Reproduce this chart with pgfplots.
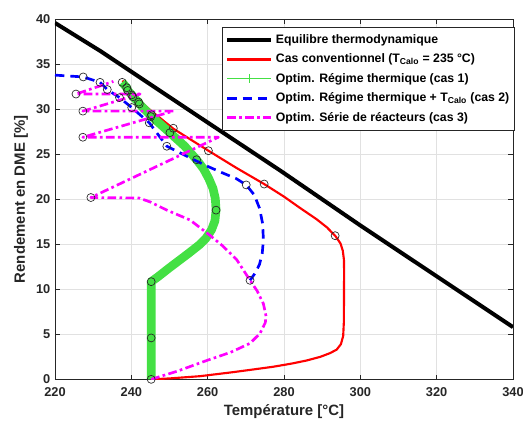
\documentclass[border=0pt]{standalone}
\usepackage{fontspec}
\setmainfont{Liberation Sans}
\usepackage{pgfplots}
\pgfplotsset{compat=1.18}
\definecolor{axgray}{RGB}{38,38,38}
\definecolor{gridgray}{RGB}{225,225,225}
\definecolor{mgreen}{RGB}{68,224,68}
\definecolor{mmag}{RGB}{255,0,255}
\definecolor{mblue}{RGB}{0,0,255}
\definecolor{mred}{RGB}{255,0,0}
\begin{document}
\begin{tikzpicture}
\begin{axis}[
  scale only axis,
  width=343.5pt, height=270pt,
  xmin=220, xmax=340, ymin=0, ymax=40,
  xtick={220,240,...,340}, ytick={0,5,...,40},
  grid=major,
  major grid style={gridgray, line width=0.5pt},
  axis line style={axgray, line width=0.6pt},
  tick style={axgray, line width=0.6pt},
  tick align=inside,
  major tick length=3.5pt,
  /pgf/number format/assume math mode=true,
  tick label style={font=\bfseries\fontsize{9.6}{11}\selectfont, text=axgray},
  xticklabel style={yshift=-3pt},
  xlabel={Température [°C]},
  ylabel={Rendement en DME [\%]},
  every axis x label/.style={at={(axis description cs:0.5,-0.09)},anchor=center,
     font=\bfseries\fontsize{11.2}{13}\selectfont, text=axgray},
  every axis y label/.style={at={(axis description cs:-0.0742,0.5)},anchor=center,rotate=90,
     font=\bfseries\fontsize{11.2}{13}\selectfont, text=axgray},
  clip=true,
  legend style={at={(rel axis cs:1.0044,0.9786)}, anchor=north east,
    font=\bfseries\fontsize{9.2}{11}\selectfont, draw=axgray, fill=white,
    line width=0.5pt, row sep=2.3pt, inner ysep=3.5pt, inner xsep=2pt},
  legend cell align=left,
  legend image code/.code={\draw[mark repeat=2,mark phase=2,#1] plot coordinates {(0pt,0pt) (16.5pt,0pt) (33pt,0pt)};},
]
\coordinate (ll) at (rel axis cs:0,0);
\coordinate (ur) at (rel axis cs:1,1);
% legend entries
\addlegendimage{black, line width=3pt}
\addlegendentry{Equilibre thermodynamique}
\addlegendimage{mred, line width=1.6pt}
\addlegendentry{Cas conventionnel (T\textsubscript{Calo} = 235 °C)}
\addlegendimage{mgreen, line width=0.9pt, mark=+, mark size=3.5pt, mark options={mgreen, solid, line width=0.9pt}}
\addlegendentry{Optim. Régime thermique (cas 1)}
\addlegendimage{mblue, line width=2pt, dash pattern=on 7pt off 4.5pt}
\addlegendentry{Optim. Régime thermique + T\textsubscript{Calo} (cas 2)}
\addlegendimage{mmag, line width=2pt, dash pattern=on 6.5pt off 2.5pt on 2pt off 2.5pt}
\addlegendentry{Optim. Série de réacteurs (cas 3)}

% equilibrium
\addplot[black, line width=3pt, forget plot] coordinates {
(220,39.6) (231.8,36.5) (258,29.1) (279,23.2) (300,17.1) (340,5.8)};

% conventional
\addplot[mred, line width=1.6pt, line join=round, forget plot] coordinates {
(245.2,0) (250,0.1) (258,0.35) (266.7,0.8) (272,1.1) (277.2,1.4) (282,1.75) (286,2.1) (289.5,2.5)
(292,2.9) (293.8,3.3) (294.9,3.9) (295.5,4.8) (295.7,6.5) (295.7,8) (295.75,12) (295.7,13.3)
(295.4,14.3) (294.8,15.1) (293.4,15.96)
(291.2,16.9) (288.5,17.8) (284,19.1) (280,20.3) (274.8,21.7) (267.5,23.5) (260.2,25.4)
(251,27.85) (245,29.9) (240.5,31.6) (237.7,33.2)};

% cas 1 (green)
\addplot[mgreen, line width=6.5pt, line join=round, forget plot] coordinates {
(237.6,33.0) (238.8,32.4) (239.05,32.1) (240.1,31.6) (240.4,31.4) (241.9,30.8) (242.1,30.6)
(245.1,29.3) (250.1,27.4) (254,25.9) (257.1,24.4) (258.9,23.4) (260.3,22.3) (261.4,21.2)
(262,20.1) (262.2,18.8) (261.9,17.6) (261,16.6) (259.6,15.7) (258,15.0) (255,14.0)
(250,12.4) (247,11.4) (245.2,10.85) (245.2,4.6) (245.2,0)};

% cas 2 (blue)
\addplot[mblue, line width=2pt, dash pattern=on 7pt off 4.5pt, line join=round, forget plot] coordinates {
(220,33.8) (227.4,33.6) (231.8,33.0) (233.7,32.2) (236.9,31.3) (240.1,30.2) (244.7,28.5)
(249.3,25.9) (255.4,24.6) (259.8,23.7) (264.1,22.9) (267.5,22.3) (270.1,21.6) (272.2,20.5)
(273.6,19.0) (274.4,17.3) (274.6,15.5) (274.3,14.0) (273.6,12.8) (272.6,11.9) (271.1,11.0)};

% cas 3 (magenta)
\addplot[mmag, line width=2pt, dash pattern=on 6.5pt off 2.5pt on 2pt off 2.5pt, line join=round, forget plot] coordinates {
(245.2,0) (252,0.9) (259.8,2.1) (266,3.0) (271.1,4.0) (273.7,5.1) (275.1,6.3) (275.3,7.0)
(274.6,8.4) (273,9.8) (271.1,11.0) (267.6,13.3) (264,14.8) (260.6,16.0) (255.4,17.7)
(249.3,18.8) (245,19.7) (242,20.15) (229.4,20.2)
(262.8,26.9) (227.3,26.9) (251,29.8) (227.3,29.8) (242.3,31.7) (225.5,31.7) (235.3,33.1)};

% circles
\addplot[only marks, mark=o, mark size=3pt, mark options={axgray, line width=0.5pt}, forget plot] coordinates {
(237.6,33.0) (238.8,32.4) (239.05,32.1) (240.1,31.6) (240.4,31.4) (241.9,30.8) (242.1,30.6)
(245.3,29.4) (245.1,29.2) (250.1,27.4) (257.1,24.4) (262.2,18.8) (245.2,10.85) (245.2,4.6) (245.2,0)
(251,27.9) (260.2,25.4) (274.8,21.7) (293.4,15.96)
(227.4,33.6) (231.8,33.0) (233.7,32.2) (236.9,31.3) (240.1,30.2) (244.7,28.5) (249.3,25.9)
(270.1,21.6) (271.1,11.0)
(229.4,20.2) (227.3,26.9) (227.3,29.8) (225.5,31.7)};
\end{axis}
\pgfresetboundingbox
\path ([shift={(-41.25pt,-33.5pt)}]ll) rectangle ([shift={(7.5pt,14.5pt)}]ur);
\end{tikzpicture}
\end{document}
